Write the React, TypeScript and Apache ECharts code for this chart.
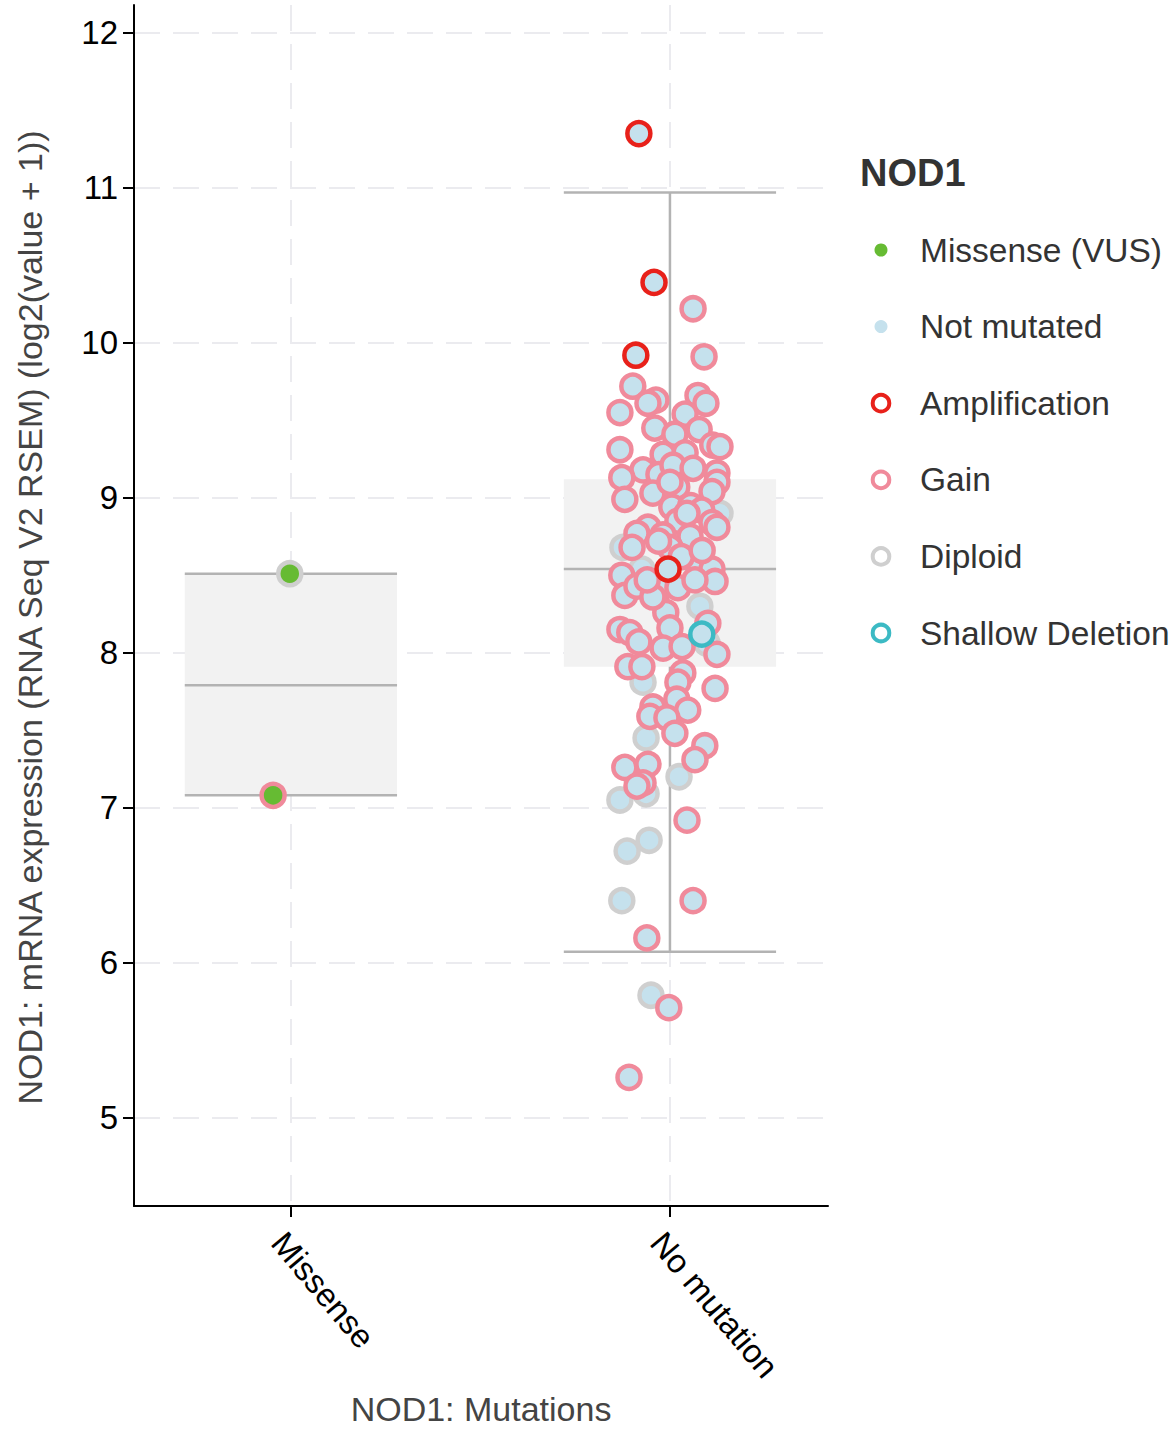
import React, { useEffect, useRef } from 'react';
import * as echarts from 'echarts';

// ---------- data ----------
const categories = ['Missense', 'No mutation'];
const yTicks = [5, 6, 7, 8, 9, 10, 11, 12];
const xTicks = [0, 1];

// [min, q1, median, q3, max] per category
const boxStats = [
  [7.08, 7.08, 7.79, 8.51, 8.51],
  [6.07, 7.91, 8.54, 9.12, 10.97],
];

// points: [jitter offset from category centre, expression]
const missenseDiploid = [[-0.003, 8.51]];
const missenseGain = [[-0.047, 7.08]];

const noMutDiploid = [
  [0.132, 8.9], [-0.124, 8.68], [-0.074, 8.54], [0.079, 8.3], [0.098, 8.06],
  [-0.071, 7.81], [-0.063, 7.45], [0.024, 7.2], [-0.132, 7.05], [-0.063, 7.09],
  [-0.113, 6.72], [-0.055, 6.79], [-0.127, 6.4], [-0.05, 5.79], [-0.087, 7.19],
];

const noMutGain = [
  [0.061, 10.22], [0.09, 9.91], [-0.098, 9.72], [-0.037, 9.63], [-0.058, 9.61],
  [0.074, 9.66], [0.095, 9.61], [-0.132, 9.55], [0.04, 9.54], [-0.04, 9.45],
  [0.013, 9.41], [0.077, 9.44], [-0.132, 9.31], [0.113, 9.34], [0.132, 9.33],
  [-0.018, 9.28], [0.04, 9.29], [-0.071, 9.18], [-0.029, 9.15], [0.008, 9.21],
  [0.061, 9.19], [0.124, 9.16], [-0.127, 9.13], [0.124, 9.1], [-0.045, 9.03],
  [0.018, 9.07], [0.111, 9.04], [-0.119, 8.99], [0.005, 8.94], [0.055, 8.95],
  [0.084, 8.92], [0.111, 8.84], [0.124, 8.81], [0.021, 8.85], [-0.058, 8.81],
  [-0.087, 8.77], [-0.018, 8.76], [0.053, 8.75], [0.0, 8.68], [-0.1, 8.68],
  [0.074, 8.59], [0.111, 8.54], [0.119, 8.46], [-0.127, 8.5], [-0.119, 8.37],
  [-0.087, 8.43], [-0.034, 8.39], [-0.005, 8.44], [0.021, 8.42], [0.066, 8.47],
  [-0.011, 8.26], [0.1, 8.19], [0.124, 7.99], [0.0, 8.16], [-0.132, 8.15],
  [-0.106, 8.13], [-0.082, 8.07], [-0.018, 8.03], [0.032, 8.04], [-0.111, 7.91],
  [-0.074, 7.91], [0.034, 7.87], [0.021, 7.81], [0.119, 7.77], [0.018, 7.7],
  [0.047, 7.63], [-0.045, 7.65], [-0.053, 7.59], [-0.008, 7.58], [0.013, 7.48],
  [0.092, 7.4], [0.066, 7.31], [-0.119, 7.26], [-0.058, 7.28], [-0.071, 7.16],
  [-0.087, 7.14], [0.045, 6.92], [0.061, 6.4], [-0.061, 6.16], [-0.003, 5.71],
  [-0.108, 5.26],
  [-0.045, 8.36], [0.03, 8.62], [-0.03, 8.72], [0.045, 8.9], [0.0, 9.1],
  [-0.06, 8.47], [0.085, 8.66],
];

const noMutAmp = [[-0.082, 11.35], [-0.042, 10.39], [-0.09, 9.92], [-0.005, 8.54]];
const noMutShallow = [[0.084, 8.12]];

const legendTitle = 'NOD1';
const legendLabels = ['Missense (VUS)', 'Not mutated', 'Amplification', 'Gain', 'Diploid', 'Shallow Deletion'];
const xAxisName = 'NOD1: Mutations';
const yAxisName = 'NOD1: mRNA expression (RNA Seq V2 RSEM) (log2(value + 1))';

// ---------- styles ----------
const FONT = '"Liberation Sans", Arial, Helvetica, sans-serif';
const GREEN = '#66bb33';
const BLUE = '#c5e1ed';
const RED = '#e8211a';
const PINK = '#f08a9b';
const GRAY = '#cfcfcf';
const TEAL = '#3cbac4';
const GRID = '#ebebef';
const BOXLINE = '#b3b3b3';
const BOXFILL = '#f2f2f2';

const place = (cat: number, pts: number[][]) => pts.map(([j, y]) => [cat + j, y]);

function scatter(name: string, data: number[][], fill: string, stroke: string) {
  return {
    type: 'scatter',
    name,
    data,
    symbol: 'circle',
    symbolSize: 23,
    z: 3,
    itemStyle: { color: fill, borderColor: stroke, borderWidth: 4.5, opacity: 1 },
    emphasis: { disabled: true },
  };
}

function buildLegend() {
  const kinds = [
    { dot: GREEN }, { dot: BLUE }, { ring: RED }, { ring: PINK }, { ring: GRAY }, { ring: TEAL },
  ];
  const els: any[] = [
    {
      type: 'text', left: 860, top: 154,
      style: { text: legendTitle, font: `bold 38px ${FONT}`, fill: '#333' },
    },
  ];
  legendLabels.forEach((label, i) => {
    const cy = 250 + i * 76.6;
    const k: any = kinds[i];
    if (k.dot) {
      els.push({ type: 'circle', shape: { cx: 881, cy, r: 6.5 }, style: { fill: k.dot } });
    } else {
      els.push({ type: 'circle', shape: { cx: 881, cy, r: 8.3 }, style: { fill: '#fff', stroke: k.ring, lineWidth: 4 } });
    }
    els.push({
      type: 'text', x: 920, y: cy,
      style: { text: label, font: `33.5px ${FONT}`, fill: '#333', textVerticalAlign: 'middle', verticalAlign: 'middle' },
    });
  });
  return els;
}

export default function App() {
  const ref = useRef<HTMLDivElement>(null);
  useEffect(() => {
    if (!ref.current) return;
    const chart = echarts.init(ref.current, undefined, { renderer: 'svg' });
    const splitStyle = { show: true, lineStyle: { color: GRID, width: 2, type: [26, 13] } };
    const option: any = {
      animation: false,
      textStyle: { fontFamily: FONT },
      grid: { left: 134, right: 347, top: 5, bottom: 226, containLabel: false },
      xAxis: {
        type: 'value',
        min: -0.414,
        max: 1.417,
        name: xAxisName,
        nameLocation: 'middle',
        nameGap: 186,
        nameTextStyle: { fontSize: 34, color: '#444', fontFamily: FONT },
        axisLine: { show: true, onZero: false, lineStyle: { color: '#000', width: 2 } },
        axisTick: { show: true, customValues: xTicks, length: 11, lineStyle: { color: '#000', width: 2 } },
        axisLabel: {
          customValues: xTicks,
          formatter: (v: number) => categories[Math.round(v)] ?? '',
          rotate: -50,
          align: 'left',
          verticalAlign: 'top',
          margin: 20,
          fontSize: 33,
          color: '#000',
          fontFamily: FONT,
        },
        splitLine: splitStyle,
      },
      yAxis: {
        type: 'value',
        min: 4.43,
        max: 12.18,
        name: yAxisName,
        nameLocation: 'middle',
        nameGap: 87,
        nameTextStyle: { fontSize: 34, color: '#444', fontFamily: FONT, padding: [0, 24, 0, 0] },
        axisLine: { show: true, onZero: false, lineStyle: { color: '#000', width: 2 } },
        axisTick: { show: true, customValues: yTicks, length: 11, lineStyle: { color: '#000', width: 2 } },
        axisLabel: { customValues: yTicks, margin: 16, fontSize: 33, color: '#000', fontFamily: FONT },
        splitLine: splitStyle,
      },
      graphic: buildLegend(),
      series: [
        {
          type: 'custom',
          name: 'box',
          z: 1,
          data: boxStats.map((s, i) => [i, ...s]),
          encode: { x: 0, y: [1, 2, 3, 4, 5] },
          renderItem: (params: any, api: any) => {
            const c = api.value(0);
            const mn = api.value(1), q1 = api.value(2), md = api.value(3), q3 = api.value(4), mx = api.value(5);
            const half = 0.28;
            const tl = api.coord([c - half, q3]);
            const br = api.coord([c + half, q1]);
            const hline = (v: number) => {
              const a = api.coord([c - half, v]);
              const b = api.coord([c + half, v]);
              return { type: 'line', shape: { x1: a[0], y1: a[1], x2: b[0], y2: b[1] }, style: { stroke: BOXLINE, lineWidth: 2.5 } };
            };
            const top = api.coord([c, mx]);
            const bot = api.coord([c, mn]);
            return {
              type: 'group',
              children: [
                { type: 'line', shape: { x1: top[0], y1: top[1], x2: bot[0], y2: bot[1] }, style: { stroke: BOXLINE, lineWidth: 2.5 } },
                { type: 'rect', shape: { x: tl[0], y: tl[1], width: br[0] - tl[0], height: br[1] - tl[1] }, style: { fill: BOXFILL } },
                hline(mx),
                hline(mn),
                hline(md),
              ],
            };
          },
        },
        scatter('Missense Diploid', place(0, missenseDiploid), GREEN, GRAY),
        scatter('Missense Gain', place(0, missenseGain), GREEN, PINK),
        scatter('Diploid', place(1, noMutDiploid), BLUE, GRAY),
        scatter('Gain', place(1, noMutGain), BLUE, PINK),
        scatter('Amplification', place(1, noMutAmp), BLUE, RED),
        scatter('Shallow Deletion', place(1, noMutShallow), BLUE, TEAL),
      ],
    };
    chart.setOption(option);
    return () => chart.dispose();
  }, []);
  return <div ref={ref} style={{ position: 'absolute', left: 0, top: 0, width: 1175, height: 1432 }} />;
}
